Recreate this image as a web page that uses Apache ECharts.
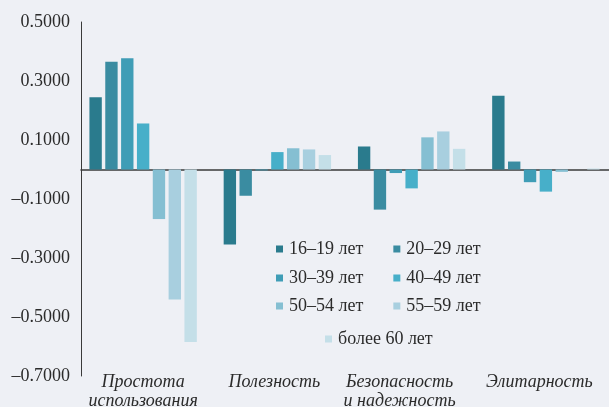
<!DOCTYPE html>
<html>
<head>
<meta charset="utf-8">
<script src="https://cdn.jsdelivr.net/npm/echarts@6/dist/echarts.min.js"></script>
<style>
  html, body { margin: 0; padding: 0; background: #eef0f5; }
  #chart { width: 609px; height: 407px; }
</style>
</head>
<body>
<div id="chart"></div>
<script>
// категории по оси X
const categories = ['Простота\nиспользования', 'Полезность', 'Безопасность\nи надежность', 'Элитарность']

// возрастные группы
const ageGroups = ['16–19 лет', '20–29 лет', '30–39 лет', '40–49 лет', '50–54 лет', '55–59 лет', 'более 60 лет']

// значения по группам (по порядку категорий)
const age16_19 = [0.245, -0.254, 0.078, 0.250]
const age20_29 = [0.365, -0.089, -0.136, 0.027]
const age30_39 = [0.377, -0.003, -0.012, -0.043]
const age40_49 = [0.156, 0.059, -0.064, -0.075]
const age50_54 = [-0.168, 0.072, 0.109, -0.008]
const age55_59 = [-0.441, 0.068, 0.129, 0]
const age60plus = [-0.585, 0.049, 0.070, 0.003]

const seriesValues = [age16_19, age20_29, age30_39, age40_49, age50_54, age55_59, age60plus]

// подписи оси Y
const yTicks = [-0.7, -0.5, -0.3, -0.1, 0.1, 0.3, 0.5]

const colors = ['#2a7b8d', '#3a8ca1', '#3f9db6', '#47afc9', '#85bfd2', '#a8cfdf', '#c4dfe8']

const serif = '"Liberation Serif", "DejaVu Serif", serif'

// подписи категорий немного смещены влево от центра группы
const labelStyleKeys = ['c0', 'c1', 'c2', 'c3']
const labelRich = {
  c0: { padding: [0, 0, 0, 0] },
  c1: { padding: [0, 6, 0, 0] },
  c2: { padding: [0, 24, 0, 0] },
  c3: { padding: [0, 13, 0, 0] }
}

const chart = echarts.init(document.getElementById('chart'))

// легенда в несколько строк
const legendRow = (names, left, top, gap) => ({
  data: names,
  left: left,
  top: top,
  padding: 0,
  itemGap: gap,
  itemWidth: 7,
  itemHeight: 7,
  icon: 'rect',
  selectedMode: false,
  itemStyle: { borderWidth: 0 },
  textStyle: { fontFamily: serif, fontSize: 18, color: '#2b2b2b', padding: [0, 0, 0, 1] }
})

const option = {
  backgroundColor: '#eef0f5',
  animation: false,
  grid: [
    { left: 76, width: 537, top: 22, height: 354, outerBoundsMode: 'none', containLabel: false },
    { left: 81, right: 0, top: 22, height: 354, outerBoundsMode: 'none', containLabel: false }
  ],
  xAxis: [
    {
      type: 'category',
      gridIndex: 0,
      data: categories,
      axisLine: { show: false, onZero: false },
      axisTick: { show: false },
      axisLabel: {
        interval: 0,
        margin: -3,
        fontFamily: serif,
        fontStyle: 'italic',
        fontSize: 18,
        lineHeight: 19,
        color: '#2b2b2b',
        rich: labelRich,
        formatter: (value, index) => {
          const key = labelStyleKeys[index]
          return value.split('\n').map(line => '{' + key + '|' + line + '}').join('\n')
        }
      }
    },
    {
      type: 'value',
      gridIndex: 1,
      min: 0,
      max: 1,
      axisLine: { show: true, onZero: true, lineStyle: { color: '#3a3a3a', width: 1.5 } },
      axisTick: { show: false },
      axisLabel: { show: false },
      splitLine: { show: false }
    }
  ],
  yAxis: [
    {
      type: 'value',
      gridIndex: 0,
      min: -0.7,
      max: 0.5,
      show: false,
      splitLine: { show: false }
    },
    {
      type: 'value',
      gridIndex: 1,
      min: -0.7,
      max: 0.5,
      axisLine: { show: true, lineStyle: { color: '#3a3a3a', width: 1 } },
      axisTick: { show: false },
      splitLine: { show: false },
      axisLabel: {
        customValues: yTicks,
        margin: 11,
        fontFamily: serif,
        fontSize: 18,
        color: '#2b2b2b',
        formatter: (v) => v.toFixed(4).replace('-', '–')
      }
    }
  ],
  legend: [
    legendRow(ageGroups.slice(0, 2), 276, 240, 30),
    legendRow(ageGroups.slice(2, 4), 276, 269, 30),
    legendRow(ageGroups.slice(4, 6), 276, 297, 30),
    legendRow(ageGroups.slice(6), 325, 330, 30)
  ],
  series: ageGroups.map((name, i) => ({
    name: name,
    type: 'bar',
    xAxisIndex: 0,
    yAxisIndex: 0,
    barGap: '28%',
    barCategoryGap: '20%',
    itemStyle: { color: colors[i] },
    data: seriesValues[i]
  }))
}

chart.setOption(option)
</script>
</body>
</html>
